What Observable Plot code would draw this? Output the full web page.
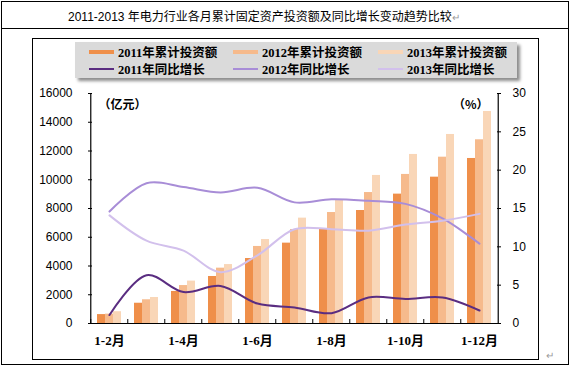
<!DOCTYPE html>
<html>
<head>
<meta charset="utf-8">
<script src="https://cdn.jsdelivr.net/npm/d3@7"></script>
<script src="https://cdn.jsdelivr.net/npm/@observablehq/plot@0.6"></script>
<style>
  body { margin: 0; background: #fff; }
  #wrap { position: relative; width: 570px; height: 367px; overflow: hidden; background: #fff;
          font-family: "Liberation Sans", Arial, "Noto Sans CJK SC", sans-serif; }
  .box { position: absolute; border: 1px solid #000; box-sizing: border-box; }
  .hline { position: absolute; height: 1px; background: #000; }
  #title { position: absolute; left: 68px; top: 9px; font-size: 12px; line-height: 16px; color: #000; white-space: nowrap;
           font-family: "Liberation Sans", Arial, "Noto Sans CJK SC", sans-serif; }
  .ret { color: #9a9a9a; font-size: 10px; }
  #legend { position: absolute; left: 75px; top: 42px; width: 442px; height: 36px; background: #dadada;
            box-shadow: 3px 3px 3px rgba(0,0,0,0.45); }
  .item { position: absolute; display: flex; align-items: center; height: 16px; white-space: nowrap;
          font-family: "Liberation Serif", "Noto Sans CJK SC", serif; font-weight: bold; font-size: 12.5px; color: #000; }
  .sw { display: inline-block; width: 25px; margin-right: 4px; }
  #plot { position: absolute; left: 0; top: 0; }
  #ret2 { position: absolute; left: 546px; top: 350px; }
</style>
</head>
<body>
<div id="wrap">
  <div class="box" style="left:1px;top:1px;width:568px;height:364px;"></div>
  <div class="hline" style="left:1px;top:28px;width:568px;"></div>
  <div class="box" style="left:32px;top:38px;width:507px;height:322px;"></div>
  <div id="title">2011-2013 年电力行业各月累计固定资产投资额及同比增长变动趋势比较<span class="ret">↵</span></div>
  <div id="plot"></div>
  <div id="legend"></div>
  <span id="ret2" class="ret">↵</span>
</div>
<script>
// ---- data ----
const months = ["1-2月","1-3月","1-4月","1-5月","1-6月","1-7月","1-8月","1-9月","1-10月","1-11月","1-12月"];
const xLabels = ["1-2月","1-4月","1-6月","1-8月","1-10月","1-12月"];
const years = ["2011","2012","2013"];
const inv2011 = [620, 1410, 2230, 3270, 4520, 5590, 6590, 7860, 9000, 10180, 11480];
const inv2012 = [650, 1650, 2640, 3850, 5360, 6540, 7720, 9110, 10370, 11570, 12780];
const inv2013 = [820, 1810, 2950, 4100, 5840, 7330, 8610, 10300, 11760, 13150, 14750];
const gr2011 = [1.1, 6.3, 4.1, 4.9, 2.6, 2.1, 1.35, 3.4, 3.2, 3.4, 1.7];
const gr2012 = [14.6, 18.3, 17.8, 17.1, 17.7, 15.8, 16.2, 16.0, 15.6, 13.7, 10.4];
const gr2013 = [14.1, 10.8, 9.5, 6.7, 8.9, 12.3, 12.3, 12.1, 12.9, 13.4, 14.3];
const leftTicks = [0, 2000, 4000, 6000, 8000, 10000, 12000, 14000, 16000];
const rightTicks = [0, 5, 10, 15, 20, 25, 30];
const barNames = ["2011年累计投资额","2012年累计投资额","2013年累计投资额"];
const lineNames = ["2011年同比增长","2012年同比增长","2013年同比增长"];
const barColors = ["#ef8f4a", "#f6ba8c", "#f9d6b7"];
const lineColors = ["#5a2d81", "#a88dd7", "#d2c0ec"];

// ---- build ----
const invs = [inv2011, inv2012, inv2013];
const grs = [gr2011, gr2012, gr2013];
const W = 570, H = 367, mL = 88, mR = 70, mT = 93, mB = 44;
const step = (W - mL - mR) / months.length;
const yMax = 16000, rMax = 30, k = yMax / rMax;

const barMarks = invs.map((arr, s) =>
  Plot.barY(months.map((m, i) => ({m, v: arr[i]})), {
    x: "m", y: "v", fill: barColors[s],
    insetLeft: s * 8, insetRight: (2 - s) * 8
  }));
const lineMarks = grs.map((arr, s) =>
  Plot.lineY(months.map((m, i) => ({m, g: arr[i]})), {
    x: "m", y: d => d.g * k, stroke: lineColors[s], strokeWidth: 2, curve: "catmull-rom"
  }));

const chart = Plot.plot({
  width: W, height: H,
  marginTop: mT, marginBottom: mB, marginLeft: mL, marginRight: mR,
  style: {background: "transparent", fontFamily: "'Liberation Sans', Arial, sans-serif", fontSize: "12px", color: "#000", overflow: "visible"},
  x: {type: "band", domain: months, paddingInner: 0.36, paddingOuter: 0.18, axis: null, label: null},
  y: {domain: [0, yMax], axis: null, label: null},
  marks: [
    ...barMarks,
    ...lineMarks,
    Plot.ruleY([0], {stroke: "#000", strokeWidth: 1.2}),
    Plot.ruleX([months[0]], {dx: -step / 2, stroke: "#000", strokeWidth: 1.2}),
    Plot.ruleX([months[months.length - 1]], {dx: step / 2, stroke: "#000", strokeWidth: 1.2}),
    Plot.axisY(leftTicks, {anchor: "left", label: null, tickSize: 4, dx: 4, tickPadding: 16, fontSize: 12,
      tickFormat: v => String(v)}),
    Plot.axisY(rightTicks.map(v => v * k), {anchor: "right", label: null, tickSize: 4, dx: -4, tickPadding: 12, fontSize: 12,
      tickFormat: v => String(Math.round(v / k))}),
    Plot.axisX(months, {anchor: "bottom", label: null, tickSize: 4, dy: -4, dx: -step / 2, tickFormat: () => ""}),
    Plot.axisX(xLabels, {anchor: "bottom", label: null, tickSize: 0, tickPadding: 12, fontWeight: "bold", fontSize: 13,
      fontFamily: "'Liberation Serif', 'Noto Sans CJK SC', serif"}),
    Plot.text(["（亿元）"], {frameAnchor: "top-left", dx: 10, dy: 7, textAnchor: "start", fontWeight: "bold", fontSize: 12,
      fontFamily: "'Noto Sans CJK SC', sans-serif"}),
    Plot.text(["（%）"], {frameAnchor: "top-right", dx: -12, dy: 7, textAnchor: "end", fontWeight: "bold", fontSize: 12,
      fontFamily: "'Noto Sans CJK SC', sans-serif"})
  ]
});
document.getElementById("plot").appendChild(chart);

// ---- legend ----
const legend = document.getElementById("legend");
const colX = [14, 158, 303];
const rowY = [1.5, 18.5];
years.forEach((y, s) => {
  const a = document.createElement("div");
  a.className = "item";
  a.style.left = colX[s] + "px"; a.style.top = rowY[0] + "px";
  a.innerHTML = `<span class="sw" style="height:4px;background:${barColors[s]}"></span>${barNames[s]}`;
  legend.appendChild(a);
  const b = document.createElement("div");
  b.className = "item";
  b.style.left = colX[s] + "px"; b.style.top = rowY[1] + "px";
  b.innerHTML = `<span class="sw" style="height:2px;background:${lineColors[s]}"></span>${lineNames[s]}`;
  legend.appendChild(b);
});
</script>
</body>
</html>
